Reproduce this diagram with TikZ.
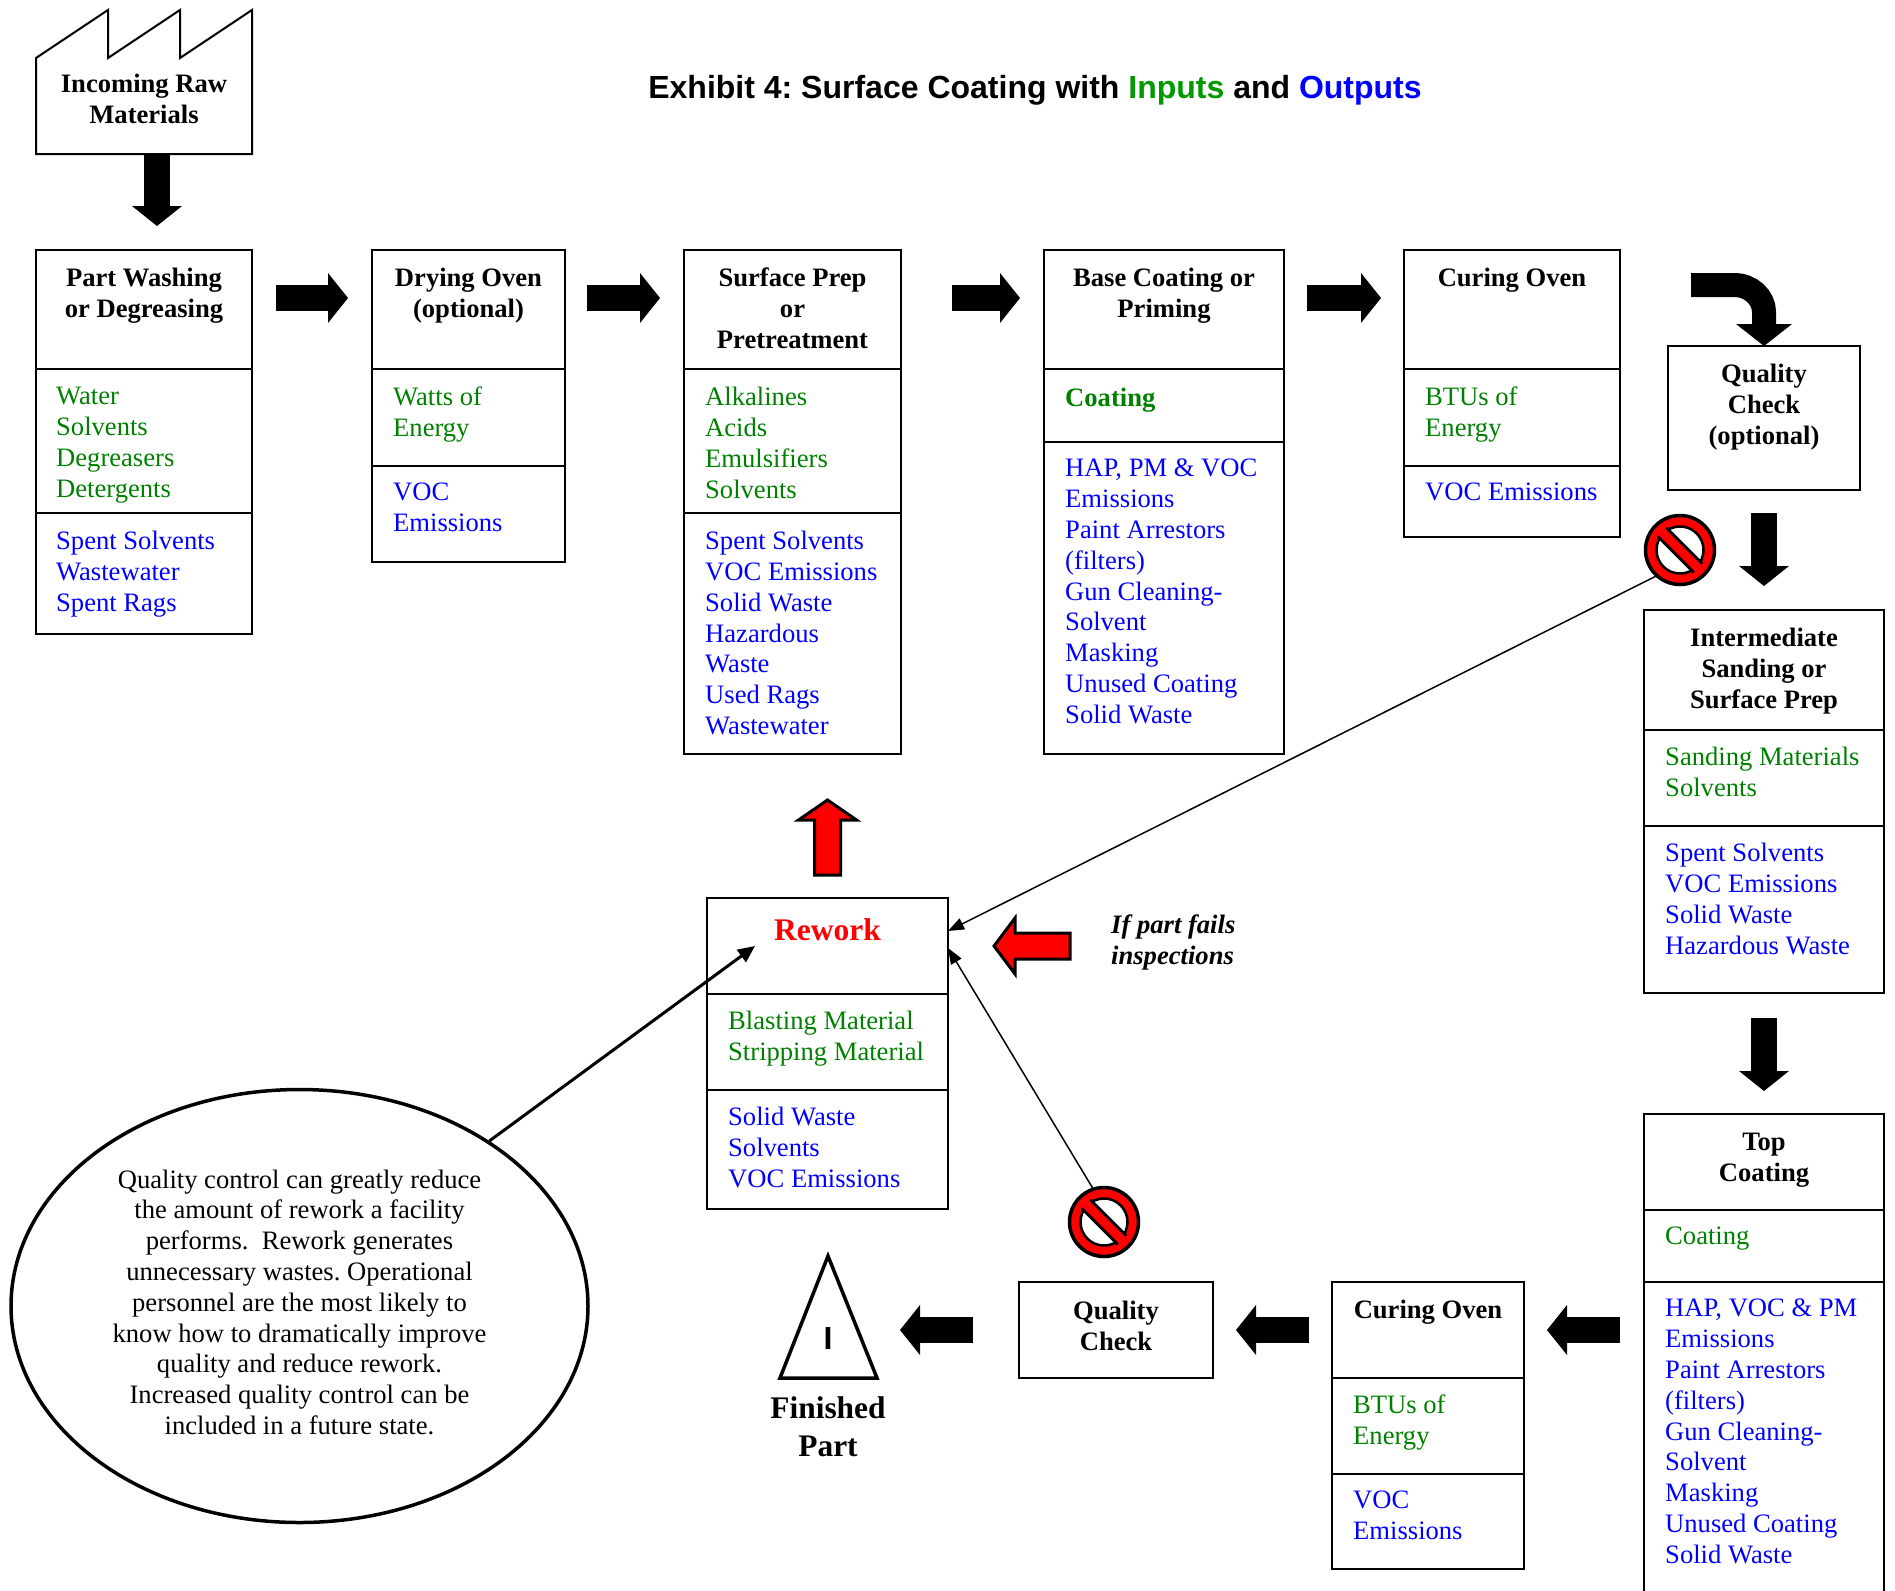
\documentclass[tikz,border=0pt]{standalone}
\usepackage{fontspec}
\setmainfont{Liberation Serif}
\newfontfamily\titlefont{Liberation Sans}
\usetikzlibrary{positioning,arrows.meta,shapes.geometric}
\frenchspacing

\definecolor{ingreen}{RGB}{0,128,0}
\definecolor{outblue}{RGB}{0,0,255}
\definecolor{titlegreen}{RGB}{0,153,0}
\newcommand{\bodysize}{\fontsize{26.6}{30.8}\selectfont}

\tikzset{
  cell/.style 2 args={draw, line width=2pt, inner sep=0pt, outer sep=0pt,
    minimum width=#1pt, minimum height=#2pt},
  head/.style={font=\bodysize\bfseries, align=center, inner sep=0pt},
  inlist/.style={font=\bodysize, text=ingreen, align=left, inner sep=0pt},
  outlist/.style={font=\bodysize, text=outblue, align=left, inner sep=0pt},
  blk/.style={line width=26pt, -{Triangle[length=20pt, width=50pt, line width=0pt]}},
  redblk/.style={fill=red, draw=black, line width=3pt, line join=miter},
  thinarr/.style={line width=1.5pt, -{Triangle[length=16pt, width=12pt]}},
  nosign/.style={circle, draw=black, fill=red, line width=3.5pt, minimum size=69pt,
    inner sep=0pt, outer sep=0pt,
    path picture={
      \coordinate (c) at (path picture bounding box.center);
      \draw[fill=white, line width=2.5pt] (c) circle[radius=23.5pt];
      \draw[line width=15pt] ([shift={(-18pt,18pt)}]c) -- ([shift={(18pt,-18pt)}]c);
      \draw[red, line width=9pt] ([shift={(-19pt,19pt)}]c) -- ([shift={(19pt,-19pt)}]c);
    }}
}

\begin{document}
\begin{tikzpicture}[x=1pt, y=-1pt]
  \useasboundingbox (0,0) rectangle (1895,1590);

  % Define nodes
  \node[font=\titlefont\bfseries\fontsize{32}{38}\selectfont, anchor=base] (title) at (1035,98.5)
    {Exhibit 4: Surface Coating with \textcolor{titlegreen}{Inputs} and \textcolor{outblue}{Outputs}};

  % incoming raw materials
  \draw[line width=2pt] (36,58) -- (108,10) -- (108,58) -- (180,10) -- (180,58) -- (252,10)
    -- (252,154) -- (36,154) -- cycle;
  \node[head] (raw) at (144,99) {Incoming Raw\\Materials};

  % part washing
  \node[cell={216}{119}, anchor=north west] (wash) at (36,250) {};
  \node[cell={216}{144}, below=0pt of wash] (wash-in) {};
  \node[cell={216}{121}, below=0pt of wash-in] (wash-out) {};
  \node[head, below=18pt of wash.north] (wash-t) {Part Washing\\or Degreasing};
  \node[inlist, below right=18pt and 20pt of wash-in.north west] (wash-i) {Water\\Solvents\\Degreasers\\Detergents};
  \node[outlist, below right=18pt and 20pt of wash-out.north west] (wash-o) {Spent Solvents\\Wastewater\\Spent Rags};

  % drying oven
  \node[cell={193}{119}, anchor=north west] (dry) at (372,250) {};
  \node[cell={193}{97}, below=0pt of dry] (dry-in) {};
  \node[cell={193}{96}, below=0pt of dry-in] (dry-out) {};
  \node[head, below=18pt of dry.north] (dry-t) {Drying Oven\\(optional)};
  \node[inlist, below right=18pt and 21pt of dry-in.north west] (dry-i) {Watts of\\Energy};
  \node[outlist, below right=17pt and 21pt of dry-out.north west] (dry-o) {VOC\\Emissions};

  % surface prep
  \node[cell={217}{119}, anchor=north west] (surf) at (684,250) {};
  \node[cell={217}{144}, below=0pt of surf] (surf-in) {};
  \node[cell={217}{241}, below=0pt of surf-in] (surf-out) {};
  \node[head, below=18pt of surf.north] (surf-t) {Surface Prep\\or\\Pretreatment};
  \node[inlist, below right=18pt and 21pt of surf-in.north west] (surf-i) {Alkalines\\Acids\\Emulsifiers\\Solvents};
  \node[outlist, below right=18pt and 21pt of surf-out.north west] (surf-o)
    {Spent Solvents\\VOC Emissions\\Solid Waste\\Hazardous\\Waste\\Used Rags\\Wastewater};

  % base coating
  \node[cell={240}{119}, anchor=north west] (base) at (1044,250) {};
  \node[cell={240}{73}, below=0pt of base] (base-in) {};
  \node[cell={240}{312}, below=0pt of base-in] (base-out) {};
  \node[head, below=18pt of base.north] (base-t) {Base Coating or\\Priming};
  \node[inlist, font=\bodysize\bfseries, below right=19pt and 21pt of base-in.north west] (base-i) {Coating};
  \node[outlist, below right=17pt and 21pt of base-out.north west] (base-o)
    {HAP, PM \& VOC\\Emissions\\Paint Arrestors\\(filters)\\Gun Cleaning-\\Solvent\\Masking\\Unused Coating\\Solid Waste};

  % curing oven
  \node[cell={216}{119}, anchor=north west] (cure) at (1404,250) {};
  \node[cell={216}{97}, below=0pt of cure] (cure-in) {};
  \node[cell={216}{71}, below=0pt of cure-in] (cure-out) {};
  \node[head, below=18pt of cure.north] (cure-t) {Curing Oven};
  \node[inlist, below right=18pt and 21pt of cure-in.north west] (cure-i) {BTUs of\\Energy};
  \node[outlist, below right=17pt and 21pt of cure-out.north west] (cure-o) {VOC Emissions};

  % quality check (optional)
  \node[cell={192}{144}, anchor=north west] (qcopt) at (1668,346) {};
  \node[head, below=18pt of qcopt.north] (qcopt-t) {Quality\\Check\\(optional)};

  % intermediate sanding
  \node[cell={240}{120}, anchor=north west] (inter) at (1644,610) {};
  \node[cell={240}{96}, below=0pt of inter] (inter-in) {};
  \node[cell={240}{167}, below=0pt of inter-in] (inter-out) {};
  \node[head, below=18pt of inter.north] (inter-t) {Intermediate\\Sanding or\\Surface Prep};
  \node[inlist, below right=17pt and 21pt of inter-in.north west] (inter-i) {Sanding Materials\\Solvents};
  \node[outlist, below right=17pt and 21pt of inter-out.north west] (inter-o)
    {Spent Solvents\\VOC Emissions\\Solid Waste\\Hazardous Waste};

  % top coating
  \node[cell={240}{96}, anchor=north west] (topc) at (1644,1114) {};
  \node[cell={240}{72}, below=0pt of topc] (topc-in) {};
  \node[cell={240}{318}, below=0pt of topc-in] (topc-out) {};
  \node[head, below=19pt of topc.north] (topc-t) {Top\\Coating};
  \node[inlist, below right=17pt and 21pt of topc-in.north west] (topc-i) {Coating};
  \node[outlist, below right=17pt and 21pt of topc-out.north west] (topc-o)
    {HAP, VOC \& PM\\Emissions\\Paint Arrestors\\(filters)\\Gun Cleaning-\\Solvent\\Masking\\Unused Coating\\Solid Waste};

  % second curing oven
  \node[cell={192}{96}, anchor=north west] (cure2) at (1332,1282) {};
  \node[cell={192}{96}, below=0pt of cure2] (cure2-in) {};
  \node[cell={192}{95}, below=0pt of cure2-in] (cure2-out) {};
  \node[head, below=18pt of cure2.north] (cure2-t) {Curing Oven};
  \node[inlist, below right=17pt and 21pt of cure2-in.north west] (cure2-i) {BTUs of\\Energy};
  \node[outlist, below right=17pt and 21pt of cure2-out.north west] (cure2-o) {VOC\\Emissions};

  % quality check
  \node[cell={194}{96}, anchor=north west] (qc) at (1019,1282) {};
  \node[head, below=19pt of qc.north] (qc-t) {Quality\\Check};

  % rework
  \node[cell={241}{96}, anchor=north west] (rework) at (707,898) {};
  \node[cell={241}{96}, below=0pt of rework] (rework-in) {};
  \node[cell={241}{119}, below=0pt of rework-in] (rework-out) {};
  \node[head, text=red, font=\fontsize{31.5}{36}\selectfont\bfseries, below=20pt of rework.north] (rework-t) {Rework};
  \node[inlist, below right=17pt and 21pt of rework-in.north west] (rework-i) {Blasting Material\\Stripping Material};
  \node[outlist, below right=17pt and 21pt of rework-out.north west] (rework-o) {Solid Waste\\Solvents\\VOC Emissions};
  \node[font=\bodysize\bfseries\itshape, align=left, inner sep=0pt, anchor=north west] (fails) at (1111,915)
    {If part fails\\inspections};

  % finished part
  \draw[line width=3.5pt, line join=miter] (828,1256) -- (877,1378) -- (780,1378) -- cycle;
  \node[font=\titlefont\bfseries\fontsize{32}{38}\selectfont, inner sep=0pt] (fin) at (828,1338.5) {I};
  \node[font=\bfseries\fontsize{31.4}{38}\selectfont, align=center, inner sep=0pt, anchor=north] (fin-t) at (828,1396)
    {Finished\\Part};

  % note
  \node[ellipse, draw, line width=3.5pt, minimum width=577pt, minimum height=433pt, inner sep=0pt,
    align=center, font=\bodysize] (note) at (299.5,1306)
    {Quality control can greatly reduce\\the amount of rework a facility\\performs.\ \ Rework generates\\
     unnecessary wastes. Operational\\personnel are the most likely to\\know how to dramatically improve\\
     quality and reduce rework.\\Increased quality control can be\\included in a future state.\\[-22.8pt]};

  % no signs
  \node[nosign] (no1) at (1680,550) {};
  \node[nosign] (no2) at (1104,1222) {};

  % Connect the nodes
  \draw[blk] ([shift={(13,-96)}]wash.north) -- ([shift={(13,-24)}]wash.north);
  \draw[blk] ([shift={(24,48)}]wash.north east) -- ([shift={(-24,48)}]dry.north west);
  \draw[blk] ([shift={(22,48)}]dry.north east) -- ([shift={(-24,48)}]surf.north west);
  \draw[blk] ([shift={(51,48)}]surf.north east) -- ([shift={(-24,48)}]base.north west);
  \draw[blk] ([shift={(23,48)}]base.north east) -- ([shift={(-23,48)}]cure.north west);
  \draw[line width=24pt, -{Triangle[length=22pt, width=56pt, line width=0pt]}]
    ([shift={(71,35)}]cure.north east) -- ++(44,0) .. controls +(15,0) and +(0,-15) ..
    ([shift={(0,-34)}]qcopt.north) -- (qcopt.north);
  \draw[blk] ([shift={(0,23)}]qcopt.south) -- ([shift={(0,-24)}]inter.north);
  \draw[blk] ([shift={(0,25)}]inter-out.south) -- ([shift={(0,-23)}]topc.north);
  \draw[blk] ([shift={(-24,48)}]topc-out.north west) -- ([shift={(23,48)}]cure2.north east);
  \draw[blk] ([shift={(-23,48)}]cure2.north west) -- ([shift={(23,48)}]qc.north east);
  \draw[blk] ([shift={(-46,48)}]qc.north west) -- ([shift={(-119,48)}]qc.north west);

  \draw[redblk, shift={(rework.north)}] (-13,-23) -- (13,-23) -- (13,-78) -- (29,-78) -- (0,-98)
    -- (-29,-78) -- (-13,-78) -- cycle;
  \draw[redblk, shift={(rework.north east)}] (122,35) -- (67,35) -- (67,20) -- (46,48) -- (67,76)
    -- (67,61) -- (122,61) -- cycle;

  \draw[thinarr] (no1.228) -- ([shift={(0,33)}]rework.north east);
  \draw[thinarr] (no2.108) -- ([shift={(0,50)}]rework.north east);
  \draw[line width=3pt, -{Triangle[length=17pt, width=15pt]}] (note.41) -- ([shift={(48,48)}]rework.north west);

\end{tikzpicture}
\end{document}
